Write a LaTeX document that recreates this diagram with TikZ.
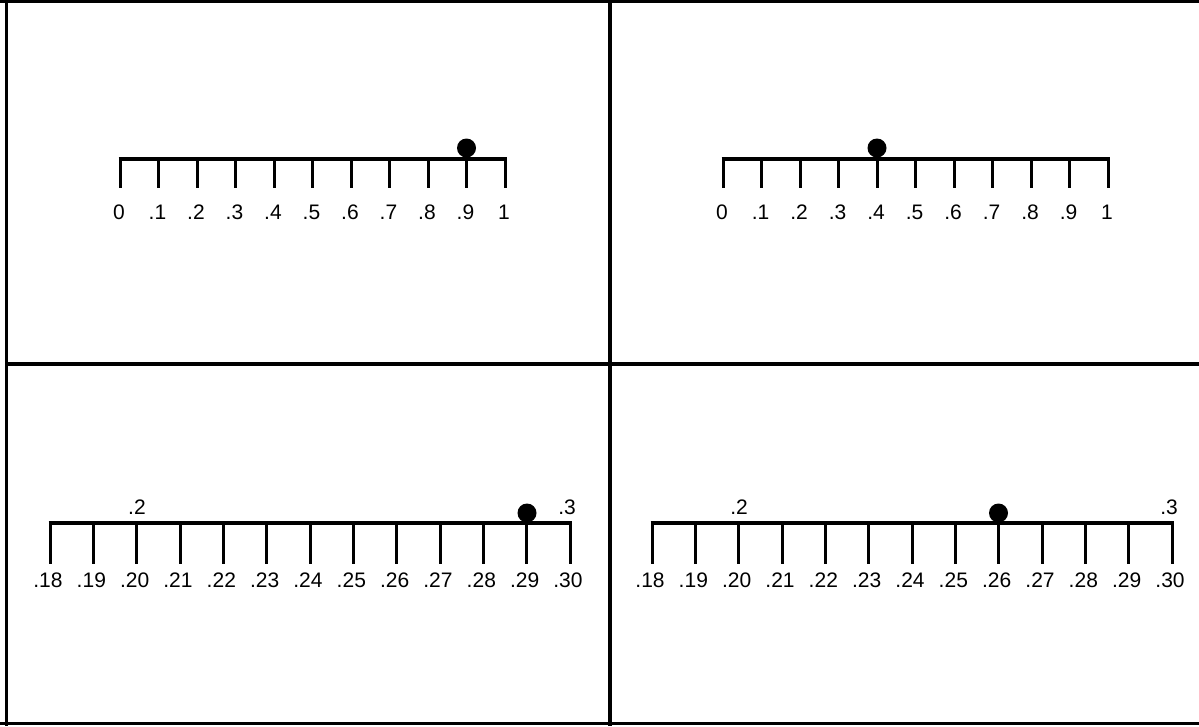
\documentclass[tikz,border=0pt]{standalone}
\usepackage{fontspec}
\setmainfont{Liberation Sans}
\usetikzlibrary{calc}
\begin{document}
\begin{tikzpicture}[x=1pt,y=-1pt,
  frame/.style={line width=3.5pt},
  axis/.style={line width=3.5pt},
  tickline/.style={line width=3pt},
  lbl/.style={font=\fontsize{21}{21}\selectfont, inner sep=0pt},
  dotmark/.style={circle, fill=black, minimum size=19pt, inner sep=0pt}]
\useasboundingbox (0,0) rectangle (1199,726);
% frame
\draw[frame] (6.5,0) -- (6.5,726);
\draw[frame] (0,1.5) -- (1199,1.5);
\draw[frame] (0,723.5) -- (1199,723.5);
\draw[frame] (610,0) -- (610,726);
\draw[frame] (5,364) -- (1199,364);
% panel 1
\foreach \i/\t in {0/0,1/.1,2/.2,3/.3,4/.4,5/.5,6/.6,7/.7,8/.8,9/.9,10/1} {
  \coordinate (a\i) at ({120+38.5*\i},157.5);
  \draw[tickline] (a\i) -- ++(0,30);
  \node[lbl] (la\i) at ({119+38.5*\i},212) {\t};
}
\draw[axis] ($(a0)+(-1.5,1.5)$) -- ($(a10)+(1.5,1.5)$);
\node[dotmark] (d1) at (466.5,148) {};
% panel 2
\foreach \i/\t in {0/0,1/.1,2/.2,3/.3,4/.4,5/.5,6/.6,7/.7,8/.8,9/.9,10/1} {
  \coordinate (b\i) at ({723+38.5*\i},157.5);
  \draw[tickline] (b\i) -- ++(0,30);
  \node[lbl] (lb\i) at ({722+38.5*\i},212) {\t};
}
\draw[axis] ($(b0)+(-1.5,1.5)$) -- ($(b10)+(1.5,1.5)$);
\node[dotmark] (d2) at (877,148) {};
% panel 3
\foreach \i/\t in {0/.18,1/.19,2/.20,3/.21,4/.22,5/.23,6/.24,7/.25,8/.26,9/.27,10/.28,11/.29,12/.30} {
  \coordinate (c\i) at ({50+43.333*\i},521.5);
  \draw[tickline] (c\i) -- ++(0,42);
  \node[lbl] (lc\i) at ({48+43.333*\i},580) {\t};
}
\draw[axis] ($(c0)+(-1.5,1.5)$) -- ($(c12)+(1.5,1.5)$);
\node[lbl] (lc20) at (137,507) {.2};
\node[lbl] (lc30) at (567,507) {.3};
\node[dotmark] (d3) at (527,513) {};
% panel 4
\foreach \i/\t in {0/.18,1/.19,2/.20,3/.21,4/.22,5/.23,6/.24,7/.25,8/.26,9/.27,10/.28,11/.29,12/.30} {
  \coordinate (e\i) at ({652+43.333*\i},521.5);
  \draw[tickline] (e\i) -- ++(0,42);
  \node[lbl] (le\i) at ({650+43.333*\i},580) {\t};
}
\draw[axis] ($(e0)+(-1.5,1.5)$) -- ($(e12)+(1.5,1.5)$);
\node[lbl] (le20) at (739,507) {.2};
\node[lbl] (le30) at (1169,507) {.3};
\node[dotmark] (d4) at (998.5,513) {};
\end{tikzpicture}
\end{document}
